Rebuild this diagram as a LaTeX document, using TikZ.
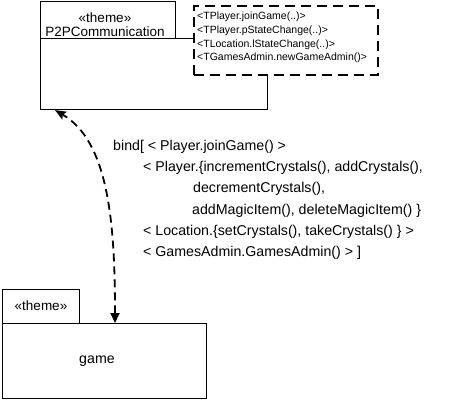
\documentclass[tikz,border=0pt]{standalone}
\usepackage{fontspec}
\setmainfont{Liberation Sans}
\usetikzlibrary{arrows.meta}

\begin{document}
\begin{tikzpicture}[x=1pt, y=-1pt, font=\fontsize{14.2}{21.2}\selectfont,
          pk/.style={draw, line width=1.1pt, fill=white, inner sep=0pt, anchor=north west},
          tp/.style={draw, line width=1.8pt, dash pattern=on 10pt off 6pt, fill=white, inner sep=0pt, anchor=north west},
          lbl/.style={inner sep=0pt, align=left, anchor=north west},
          bnd/.style={line width=1.8pt, dash pattern=on 8pt off 5pt, {Triangle[length=10pt,width=9pt]}-{Stealth[length=11pt,width=9pt,inset=2pt]}}]
          \useasboundingbox (0,0) rectangle (470,400);
          \node[pk, minimum width=227pt, minimum height=71pt] (p2pbody) at (40,38) {};
          \node[pk, minimum width=135pt, minimum height=37pt] (p2ptab) at (40,1) {};
          \node[align=center, inner sep=0pt, font=\fontsize{13.5}{14}\selectfont] (p2plbl) at (105,24.5) {«theme»\\P2PCommunication};
          \node[tp, minimum width=184pt, minimum height=69pt] (params) at (193,5) {};
          \node[lbl, font=\fontsize{10.5}{13.7}\selectfont] (paramtxt) at (197,12)
            {<TPlayer.joinGame(..)>\\<TPlayer.pStateChange(..)>\\<TLocation.lStateChange(..)>\\<TGamesAdmin.newGameAdmin()>};
          \node[pk, minimum width=204pt, minimum height=75pt] (gamebody) at (2,323) {};
          \node[pk, minimum width=77pt, minimum height=34pt] (gametab) at (2,289) {};
          \node[font=\fontsize{13.5}{14}\selectfont] (gametablbl) at (41,306) {«theme»};
          \node (gamelbl) at (97,361) {game};
          \node[lbl] (bindtxt) at (113,140) {bind[ < Player.joinGame() >\\
            \hspace*{30pt}< Player.\{incrementCrystals(), addCrystals(),\\
            \hspace*{80pt}decrementCrystals(),\\
            \hspace*{79pt}addMagicItem(), deleteMagicItem() \}\\
            \hspace*{30pt}< Location.\{setCrystals(), takeCrystals() \} >\\
            \hspace*{30pt}< GamesAdmin.GamesAdmin() > ]};
          \draw[bnd] ([xshift=113pt]gamebody.north west) .. controls +(0,-103) and +(53,31) .. ([xshift=15pt]p2pbody.south west);
        \end{tikzpicture}
\end{document}
